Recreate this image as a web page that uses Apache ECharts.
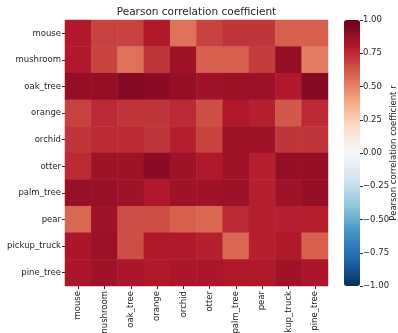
<!DOCTYPE html>
<html>
<head>
<meta charset="utf-8">
<script src="https://cdn.jsdelivr.net/npm/echarts@6/dist/echarts.min.js"></script>
<style>
html,body{margin:0;padding:0;background:#fff;}
#chart{width:398px;height:333px;}
</style>
</head>
<body>
<div id="chart"></div>
<script>
// class names, same order on both axes
var classes = ['mouse','mushroom','oak_tree','orange','orchid','otter','palm_tree','pear','pickup_truck','pine_tree'];

// one row per class (y), values across classes (x)
var r_mouse        = [0.80, 0.68, 0.68, 0.80, 0.55, 0.68, 0.72, 0.72, 0.60, 0.60];
var r_mushroom     = [0.80, 0.68, 0.55, 0.72, 0.85, 0.60, 0.60, 0.70, 0.88, 0.52];
var r_oak_tree     = [0.88, 0.88, 0.92, 0.90, 0.88, 0.85, 0.86, 0.86, 0.80, 0.92];
var r_orange       = [0.68, 0.75, 0.72, 0.72, 0.75, 0.65, 0.80, 0.78, 0.62, 0.75];
var r_orchid       = [0.72, 0.75, 0.75, 0.72, 0.78, 0.68, 0.85, 0.85, 0.72, 0.72];
var r_otter        = [0.75, 0.85, 0.85, 0.90, 0.85, 0.80, 0.85, 0.78, 0.88, 0.88];
var r_palm_tree    = [0.87, 0.87, 0.85, 0.80, 0.85, 0.85, 0.86, 0.78, 0.85, 0.88];
var r_pear         = [0.58, 0.85, 0.65, 0.65, 0.60, 0.58, 0.75, 0.78, 0.78, 0.78];
var r_pickup_truck = [0.82, 0.86, 0.65, 0.80, 0.80, 0.78, 0.58, 0.78, 0.80, 0.60];
var r_pine_tree    = [0.82, 0.85, 0.82, 0.80, 0.82, 0.82, 0.80, 0.80, 0.85, 0.82];

var rows = [r_mouse, r_mushroom, r_oak_tree, r_orange, r_orchid, r_otter, r_palm_tree, r_pear, r_pickup_truck, r_pine_tree];

// RdBu_r
var rdbu_r = ['#053061','#2166ac','#4393c3','#92c5de','#d1e5f0','#f7f7f7','#fddbc7','#f4a582','#d6604d','#b2182b','#67001f'];

var heatData = [];
for (var i = 0; i < rows.length; i++) {
    for (var j = 0; j < rows[i].length; j++) {
        heatData.push([j, i, rows[i][j]]);
    }
}

var txt = '#262626';
var fnt = 'DejaVu Sans';

var option = {
    animation: false,
    textStyle: {fontFamily: fnt},
    grid: [
        {left: 65, top: 20, width: 263, height: 266, outerBoundsMode: 'none'},
        {left: 344, top: 20, width: 16, height: 266, outerBoundsMode: 'none'}   // colorbar axis
    ],
    xAxis: [
        {
            type: 'category', gridIndex: 0, data: classes,
            axisLine: {show: false},
            axisTick: {show: true, length: 3, alignWithLabel: true, lineStyle: {color: txt}},
            axisLabel: {rotate: 90, margin: 5, fontSize: 8.5, color: txt, fontFamily: fnt, interval: 0, hideOverlap: false},
            splitLine: {show: false}
        },
        {type: 'category', gridIndex: 1, data: [''], show: false}
    ],
    yAxis: [
        {
            type: 'category', gridIndex: 0, data: classes, inverse: true,
            axisLine: {show: false},
            axisTick: {show: true, length: 3, alignWithLabel: true, lineStyle: {color: txt}},
            axisLabel: {margin: 4, fontSize: 8.5, color: txt, fontFamily: fnt, interval: 0},
            splitLine: {show: false}
        },
        {
            type: 'value', gridIndex: 1, position: 'right', min: -1, max: 1, interval: 0.25,
            axisLine: {show: false},
            axisTick: {show: true, length: 3, lineStyle: {color: txt}},
            axisLabel: {margin: 3, fontSize: 8.5, color: txt, fontFamily: fnt,
                formatter: function (v) { return (v < 0 ? '\u2212' : '') + Math.abs(v).toFixed(2); }},
            splitLine: {show: false}
        }
    ],
    visualMap: {
        type: 'continuous', min: -1, max: 1, seriesIndex: 0,
        orient: 'vertical', left: 344, top: 20, padding: 0,
        itemWidth: 16, itemHeight: 266,
        calculable: false, hoverLink: false, text: null, showLabel: false,
        inRange: {color: rdbu_r}
    },
    graphic: [
        {type: 'text', x: 196.5, y: 12,
            style: {text: 'Pearson correlation coefficient', fontSize: 10.5, fontFamily: fnt, fill: txt,
                textAlign: 'center', textVerticalAlign: 'middle'}},
        {type: 'text', x: 394, y: 153, rotation: Math.PI / 2,
            style: {text: 'Pearson correlation coefficient r', fontSize: 8.5, fontFamily: fnt, fill: txt,
                textAlign: 'center', textVerticalAlign: 'middle'}}
    ],
    series: [
        {
            type: 'heatmap', xAxisIndex: 0, yAxisIndex: 0,
            data: heatData,
            itemStyle: {borderWidth: 0},
            emphasis: {disabled: true}
        }
    ]
};

var chart = echarts.init(document.getElementById('chart'), null, {renderer: 'canvas'});
chart.setOption(option);
</script>
</body>
</html>
